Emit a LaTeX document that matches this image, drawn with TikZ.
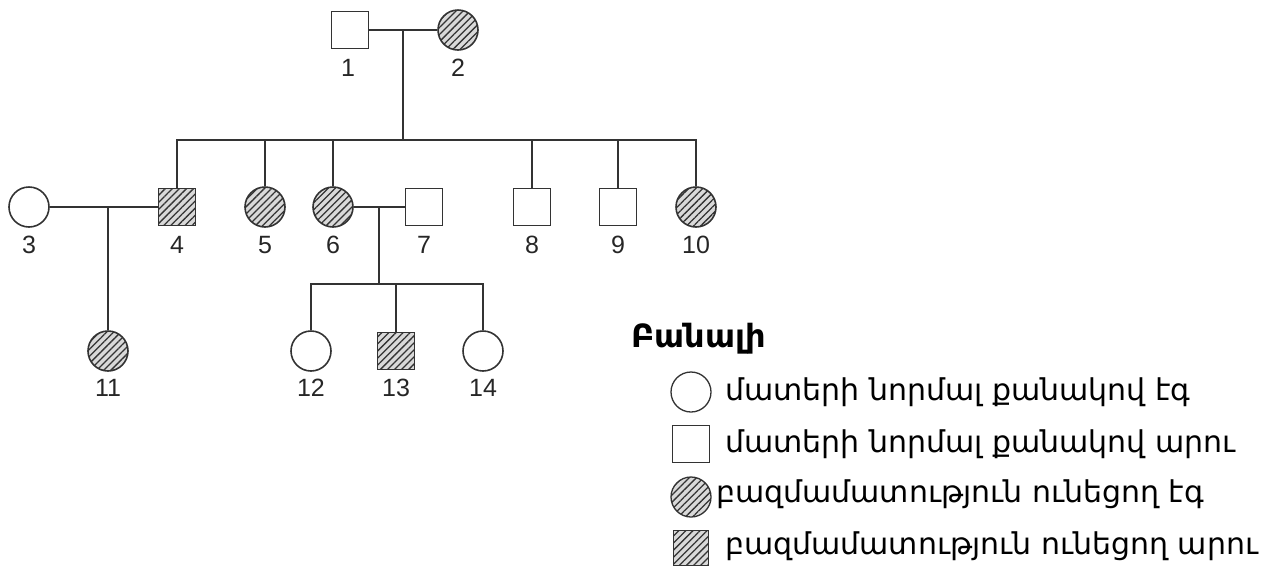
\documentclass[tikz,border=0pt]{standalone}
\usepackage{fontspec}
\setmainfont{Liberation Sans}
\newfontfamily\armfont{DejaVu Sans}
\usetikzlibrary{patterns.meta}
\begin{document}
\begin{tikzpicture}[x=1pt,y=-1pt,
  ln/.style={line width=1.6pt, draw=black!80},
  fem/.style={circle, draw=black!80, line width=1.6pt, minimum size=40pt, inner sep=0pt, fill=white},
  mal/.style={rectangle, draw=black!80, line width=1.6pt, minimum size=37pt, inner sep=0pt, fill=white},
  aff/.style={preaction={fill=gray!30}, pattern={Lines[angle=45,distance=5pt,line width=1.3pt]}, pattern color=black!80},
  lab/.style={font=\fontsize{25}{25}\selectfont, text=black!85, inner sep=0pt},
  legtxt/.style={font=\armfont\fontsize{30}{30}\selectfont, anchor=west, inner sep=0pt}
]
\useasboundingbox (0,0) rectangle (1267,566);
% generation I
\node[mal] (p1) at (350,30) {};
\node[fem,aff] (p2) at (458,30) {};
\node[lab] at (348,68) {1};
\node[lab] at (458,68) {2};
\coordinate (m12) at (403,30);
\coordinate (s12) at (403,140);
% generation II
\node[fem] (p3) at (29,207) {};
\node[mal,aff] (p4) at (177,207) {};
\node[fem,aff] (p5) at (265,207) {};
\node[fem,aff] (p6) at (333,207) {};
\node[mal] (p7) at (424,207) {};
\node[mal] (p8) at (532,207) {};
\node[mal] (p9) at (618,207) {};
\node[fem,aff] (p10) at (696,207) {};
\foreach \n/\x in {3/29,4/177,5/265,6/333,7/424,8/532,9/618,10/696}
  \node[lab] at (\x,245) {\n};
% generation III
\node[fem,aff] (p11) at (108,351) {};
\node[fem] (p12) at (311,351) {};
\node[mal,aff] (p13) at (396,351) {};
\node[fem] (p14) at (483,351) {};
\foreach \n/\x in {11/108,12/311,13/396,14/483}
  \node[lab] at (\x,388) {\n};
% connectors
\draw[ln] (p1) -- (p2);
\draw[ln] (m12) -- (s12);
\draw[ln] (p4.north) -- (177,140) -- (696,140) -- (p10.north);
\foreach \p in {p5,p6,p8,p9} \draw[ln] (\p.north) -- (\p.north |- s12);
\draw[ln] (p3) -- (p4);
\coordinate (m34) at (108,207);
\draw[ln] (m34) -- (p11);
\draw[ln] (p6) -- (p7);
\coordinate (m67) at (379,207);
\coordinate (s67) at (379,284);
\draw[ln] (m67) -- (s67);
\draw[ln] (p12.north) -- (311,284) -- (483,284) -- (p14.north);
\draw[ln] (p13.north) -- (p13.north |- s67);
% legend
\node[font=\armfont\bfseries\fontsize{32}{32}\selectfont, anchor=base west, inner sep=0pt] (key) at (631,347) {Բանալի};
\node[fem, line width=1.3pt] (k1) at (691,392) {};
\node[mal, line width=1.3pt] (k2) at (691,444) {};
\node[fem,aff, line width=1.3pt] (k3) at (691,497) {};
\node[mal,aff, line width=1.3pt, minimum size=35pt] (k4) at (691,548) {};
\node[legtxt] at (725,392) {մատերի նորմալ քանակով էգ};
\node[legtxt] at (725,444) {մատերի նորմալ քանակով արու};
\node[legtxt] at (716,494) {բազմամատություն ունեցող էգ};
\node[legtxt] at (725,546) {բազմամատություն ունեցող արու};
\end{tikzpicture}
\end{document}
